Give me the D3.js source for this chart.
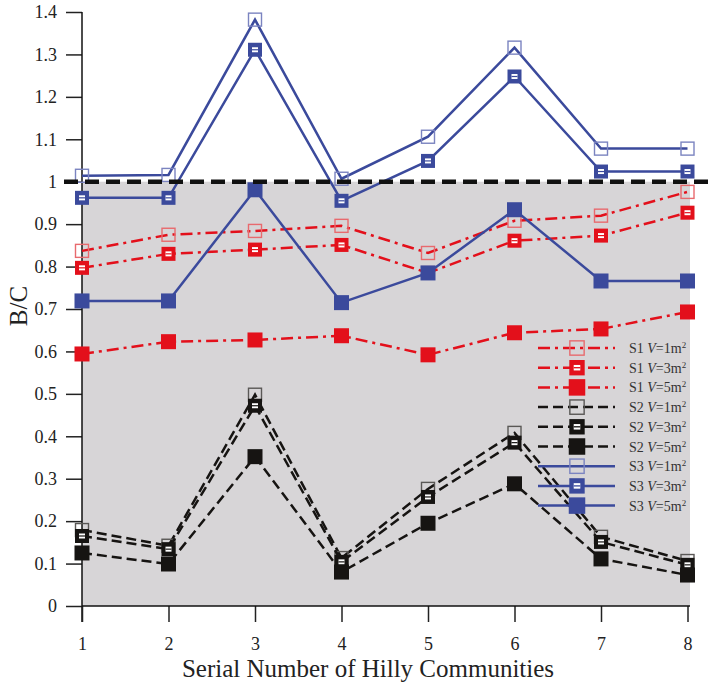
<!DOCTYPE html>
<html><head><meta charset="utf-8">
<script src="https://cdn.jsdelivr.net/npm/d3@7"></script>
<style>body{margin:0;background:#fff}svg{display:block}</style>
</head><body>
<svg id="c" width="708" height="687"></svg>
<script>
const communities = [1,2,3,4,5,6,7,8];
const yTicks = [0,0.1,0.2,0.3,0.4,0.5,0.6,0.7,0.8,0.9,1,1.1,1.2,1.3,1.4];
const s1v1 = [0.837,0.875,0.884,0.896,0.832,0.908,0.920,0.976];
const s1v3 = [0.797,0.830,0.840,0.851,0.785,0.861,0.873,0.927];
const s1v5 = [0.594,0.623,0.627,0.637,0.592,0.644,0.653,0.693];
const s2v1 = [0.179,0.142,0.498,0.113,0.276,0.408,0.163,0.106];
const s2v3 = [0.165,0.134,0.472,0.104,0.257,0.385,0.151,0.097];
const s2v5 = [0.125,0.099,0.352,0.080,0.195,0.288,0.111,0.073];
const s3v1 = [1.014,1.016,1.382,1.007,1.106,1.316,1.078,1.078];
const s3v3 = [0.962,0.962,1.311,0.955,1.049,1.248,1.024,1.024];
const s3v5 = [0.719,0.719,0.981,0.715,0.785,0.934,0.766,0.766];
const threshold = 1.0;

const RED="#e3101b", BLACK="#161412", BLUE="#3b4a9c";
const series = [
  {name:"S1", v:"1", data:s1v1, color:RED, light:"#e86a6e", dash:"12,5,3,5", mk:"open"},
  {name:"S1", v:"3", data:s1v3, color:RED, light:RED, dash:"12,5,3,5", mk:"half"},
  {name:"S1", v:"5", data:s1v5, color:RED, light:RED, dash:"12,5,3,5", mk:"fill"},
  {name:"S2", v:"1", data:s2v1, color:BLACK, light:"#5a5856", dash:"10,5", mk:"open"},
  {name:"S2", v:"3", data:s2v3, color:BLACK, light:BLACK, dash:"10,5", mk:"half"},
  {name:"S2", v:"5", data:s2v5, color:BLACK, light:BLACK, dash:"10,5", mk:"fill"},
  {name:"S3", v:"1", data:s3v1, color:BLUE, light:"#7b84c0", dash:null, mk:"open"},
  {name:"S3", v:"3", data:s3v3, color:BLUE, light:BLUE, dash:null, mk:"half"},
  {name:"S3", v:"5", data:s3v5, color:BLUE, light:BLUE, dash:null, mk:"fill"}
];

const svg = d3.select("#c");
const x = d3.scaleLinear().domain([1,8]).range([82,687.5]);
const y = d3.scaleLinear().domain([0,1.4]).range([606,12]);
const FONT = '"Liberation Serif", "Times New Roman", serif';

svg.append("rect").attr("x",x(1)).attr("y",y(1)).attr("width",690-x(1)).attr("height",y(0)-y(1)).attr("fill","#d7d5d7");

const yAx = svg.append("g").attr("transform",`translate(${x(1)},0)`)
  .call(d3.axisLeft(y).tickValues(yTicks).tickSize(16).tickSizeOuter(0).tickPadding(9).tickFormat(d=>String(+d.toFixed(1))));
yAx.select(".domain").remove();
yAx.append("line").attr("x1",0).attr("x2",0).attr("y1",y(1.4)).attr("y2",622).attr("stroke","#111").attr("stroke-width",1.5);
yAx.selectAll(".tick line").attr("stroke","#222").attr("stroke-width",1.5);
yAx.selectAll("text").style("font-family",FONT).style("font-size","18px").attr("fill","#222");

const xAx = svg.append("g").attr("transform",`translate(0,${y(0)})`)
  .call(d3.axisBottom(x).tickValues(communities).tickSize(16).tickSizeOuter(0).tickPadding(15).tickFormat(d3.format("d")));
xAx.select(".domain").remove();
xAx.append("line").attr("x1",x(1)).attr("x2",690).attr("y1",0).attr("y2",0).attr("stroke","#111").attr("stroke-width",1.5);
xAx.selectAll(".tick line").attr("stroke","#222").attr("stroke-width",1.5);
xAx.selectAll("text").style("font-family",FONT).style("font-size","18px").attr("fill","#222");

svg.append("text").attr("x",368).attr("y",677).attr("text-anchor","middle").style("font-family",FONT).style("font-size","25px").attr("fill","#222").text("Serial Number of Hilly Communities");
svg.append("text").attr("transform",`translate(27,306) rotate(-90)`).attr("text-anchor","middle").style("font-family",FONT).style("font-size","25px").attr("fill","#222").text("B/C");

function marker(g, cx, cy, s, scale){
  const k = scale||1;
  if (s.mk==="open"){
    const h=13*k;
    g.append("rect").attr("x",cx-h/2).attr("y",cy-h/2).attr("width",h).attr("height",h).attr("fill","none").attr("stroke",s.light).attr("stroke-width",1.4);
  } else if (s.mk==="half"){
    const h=14*k;
    g.append("rect").attr("x",cx-h/2).attr("y",cy-h/2).attr("width",h).attr("height",h).attr("fill",s.color);
    g.append("rect").attr("x",cx-3*k).attr("y",cy-2.5*k).attr("width",6*k).attr("height",5*k).attr("fill","#fff");
    g.append("line").attr("x1",cx-3*k).attr("x2",cx+3*k).attr("y1",cy).attr("y2",cy).attr("stroke",s.color).attr("stroke-width",1.2*k);
  } else {
    const h=15*k;
    g.append("rect").attr("x",cx-h/2).attr("y",cy-h/2).attr("width",h).attr("height",h).attr("fill",s.color);
  }
}

const line = d3.line().x((d,i)=>x(communities[i])).y(d=>y(d));
const plot = svg.append("g");
[3,4,5,0,1,2,6,7,8].forEach(idx=>{
  const s = series[idx];
  plot.append("path").attr("d",line(s.data)).attr("fill","none").attr("stroke",s.color).attr("stroke-width",2.5)
    .attr("stroke-dasharray",s.dash).attr("stroke-linejoin","miter");
  s.data.forEach((d,i)=>marker(plot, x(communities[i]), y(d), s));
});

svg.append("line").attr("x1",64).attr("x2",708).attr("y1",y(threshold)).attr("y2",y(threshold))
  .attr("stroke","#111").attr("stroke-width",4.5).attr("stroke-dasharray","14,7");

const lg = svg.append("g");
series.forEach((s,i)=>{
  const ly = 348 + i*19.7;
  lg.append("line").attr("x1",538).attr("x2",615).attr("y1",ly).attr("y2",ly).attr("stroke",s.color).attr("stroke-width",2.5).attr("stroke-dasharray",s.dash);
  marker(lg, 577, ly, s, 1.1);
  const t = lg.append("text").attr("x",629).attr("y",ly+5).style("font-family",FONT).style("font-size","14px").attr("fill","#333");
  t.append("tspan").text(s.name+" ");
  t.append("tspan").attr("font-style","italic").text("V");
  t.append("tspan").text("="+s.v+"m");
  t.append("tspan").style("font-size","9px").attr("dy",-5).text("2");
});
</script>
</body></html>
